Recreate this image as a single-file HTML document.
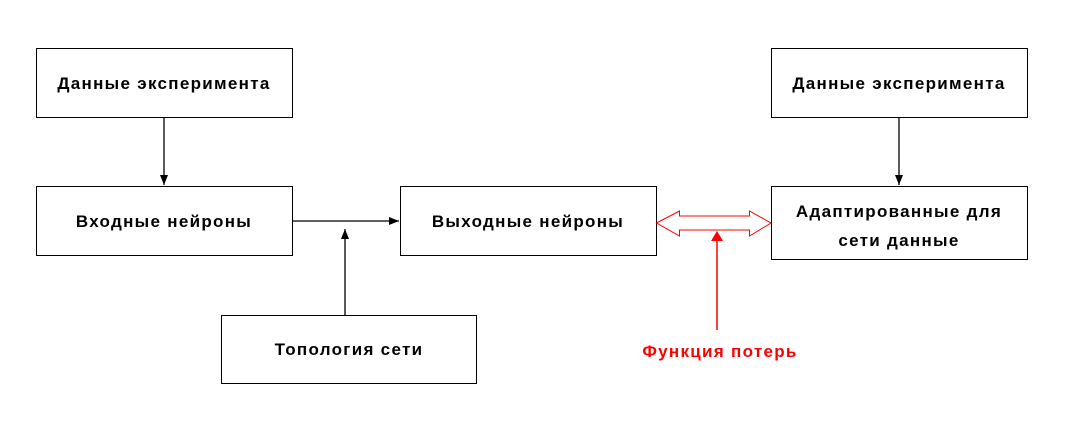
<!DOCTYPE html>
<html><head><meta charset="utf-8"><style>
body{margin:0;background:#fff;width:1067px;height:422px;overflow:hidden;font-family:"Liberation Sans","DejaVu Sans",sans-serif;}
</style></head><body>
<svg width="1067" height="422" xmlns="http://www.w3.org/2000/svg" style="position:absolute;left:0;top:0">
<defs><marker id="a" markerWidth="10" markerHeight="8" refX="10" refY="4" orient="auto" markerUnits="userSpaceOnUse"><path d="M0,0 L10,4 L0,8z" fill="#000"/></marker></defs>
<g fill="#fff" stroke="#000" stroke-width="1">
<rect x="36.5" y="48.5" width="256" height="69"/>
<rect x="36.5" y="186.5" width="256" height="69"/>
<rect x="400.5" y="186.5" width="256" height="69"/>
<rect x="771.5" y="48.5" width="256" height="69"/>
<rect x="771.5" y="186.5" width="256" height="73"/>
<rect x="221.5" y="315.5" width="255" height="68"/>
</g>
<g stroke="#000" stroke-width="1.3" fill="none">
<line x1="164" y1="118" x2="164" y2="185" marker-end="url(#a)"/>
<line x1="899" y1="118" x2="899" y2="185" marker-end="url(#a)"/>
<line x1="293" y1="221" x2="399" y2="221" marker-end="url(#a)"/>
<line x1="345" y1="315" x2="345" y2="229" marker-end="url(#a)"/>
</g>
<path d="M656.5,223 L679.5,211 L679.5,216 L749.5,216 L749.5,211 L771,223 L749.5,236 L749.5,230 L679.5,230 L679.5,236 Z" fill="#fff" stroke="#f00" stroke-width="1"/>
<line x1="717" y1="330" x2="717" y2="240" stroke="#f00" stroke-width="1.5"/>
<path d="M711,241 L717,231 L723,241Z" fill="#f00"/>
<g font-size="17" font-weight="bold" text-anchor="middle" fill="#000" letter-spacing="1.3">
<text x="164" y="89">Данные эксперимента</text>
<text x="164" y="227">Входные нейроны</text>
<text x="528" y="227">Выходные нейроны</text>
<text x="899" y="89">Данные эксперимента</text>
<text x="899" y="217">Адаптированные для</text>
<text x="899" y="246">сети данные</text>
<text x="349" y="355">Топология сети</text>
<text x="720" y="357" fill="#f00">Функция потерь</text>
</g>
</svg>
</body></html>
